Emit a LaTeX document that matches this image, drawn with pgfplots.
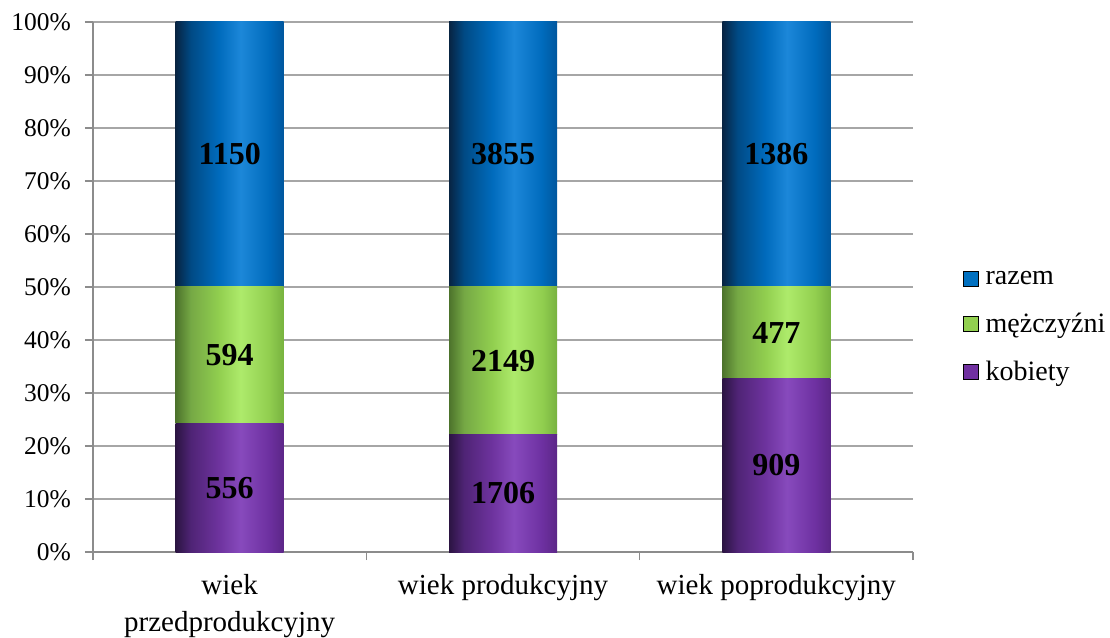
\documentclass[border=0pt]{standalone}
\usepackage{fontspec}
\setmainfont{Liberation Serif}
\usepackage{pgfplots}
\usepackage{pgfplotstable}
\pgfplotsset{compat=1.18}

\definecolor{razemC}{HTML}{0070C0}
\definecolor{mezC}{HTML}{92D050}
\definecolor{kobC}{HTML}{7030A0}
\definecolor{gridC}{HTML}{A6A6A6}
\definecolor{axisC}{HTML}{8C8C8C}

\pgfdeclarehorizontalshading{blueshade}{100bp}{
 rgb(0bp)=(0.03,0.14,0.26);
 rgb(25bp)=(0.03,0.14,0.26);
 rgb(32bp)=(0.00,0.29,0.52);
 rgb(45bp)=(0.00,0.42,0.74);
 rgb(55bp)=(0.11,0.53,0.85);
 rgb(68bp)=(0.00,0.42,0.74);
 rgb(75bp)=(0.00,0.34,0.62);
 rgb(100bp)=(0.00,0.34,0.62)}
\pgfdeclarehorizontalshading{greenshade}{100bp}{
 rgb(0bp)=(0.30,0.45,0.17);
 rgb(25bp)=(0.30,0.45,0.17);
 rgb(32bp)=(0.46,0.66,0.27);
 rgb(45bp)=(0.57,0.81,0.31);
 rgb(55bp)=(0.68,0.92,0.42);
 rgb(68bp)=(0.57,0.81,0.31);
 rgb(75bp)=(0.47,0.70,0.25);
 rgb(100bp)=(0.47,0.70,0.25)}
\pgfdeclarehorizontalshading{purpleshade}{100bp}{
 rgb(0bp)=(0.17,0.08,0.26);
 rgb(25bp)=(0.17,0.08,0.26);
 rgb(32bp)=(0.31,0.14,0.46);
 rgb(45bp)=(0.43,0.20,0.62);
 rgb(55bp)=(0.53,0.29,0.74);
 rgb(68bp)=(0.43,0.19,0.63);
 rgb(75bp)=(0.36,0.15,0.53);
 rgb(100bp)=(0.36,0.15,0.53)}

% one table per category: shares of the column total, labels = counts
\pgfplotstableread{
x   k      m      r    kl    ml    rl
0   24.17  25.83  50   556   594   1150
}\przed
\pgfplotstableread{
x   k      m      r    kl    ml    rl
1   22.13  27.87  50   1706  2149  3855
}\prod
\pgfplotstableread{
x   k      m      r    kl    ml    rl
2   32.79  17.21  50   909   477   1386
}\poprod

\pgfplotsset{
  base/.style={
    at={(0pt,0pt)}, anchor=south west,
    scale only axis, width=820pt, height=530pt,
    ybar stacked, bar width=108pt,
    xmin=-0.5, xmax=2.5, ymin=0, ymax=100,
    nodes near coords,
    point meta=explicit symbolic,
    every node near coord/.append style={anchor=center,
      font=\fontsize{32}{32}\selectfont\bfseries, text=black},
  },
}

\newcommand{\bars}[1]{%
  \addplot[forget plot, draw=none, shade, shading=purpleshade] table[x=x, y=k, meta=kl] {#1};
  \addplot[forget plot, draw=none, shade, shading=greenshade] table[x=x, y=m, meta=ml] {#1};
  \addplot[forget plot, draw=none, shade, shading=blueshade] table[x=x, y=r, meta=rl] {#1};
}

\begin{document}
\begin{tikzpicture}
\path[use as bounding box] (-93pt,-85pt) rectangle (1017pt,552pt);
\begin{axis}[
  base,
  axis x line*=bottom, axis y line*=left,
  axis line style={axisC, line width=1.5pt},
  ytick={0,10,...,100},
  yticklabels={0\%,10\%,20\%,30\%,40\%,50\%,60\%,70\%,80\%,90\%,100\%},
  xtick={0,1,2},
  xticklabels={wiek\\przedprodukcyjny, wiek produkcyjny, wiek poprodukcyjny},
  minor xtick={-0.5,0.5,1.5,2.5},
  tick align=outside,
  major tick length=8pt, minor tick length=8pt,
  ytick style={axisC, line width=1.5pt},
  major x tick style={draw=none},
  minor x tick style={axisC, line width=1.5pt},
  ymajorgrids, grid style={gridC, line width=1.5pt},
  yticklabel style={font=\fontsize{25.5}{28}\selectfont, inner sep=0pt, xshift=-14pt},
  xticklabel style={font=\fontsize{29}{37}\selectfont, align=center, inner sep=0pt, yshift=-14pt},
  legend style={at={(1,0.426)}, anchor=west, xshift=50pt, draw=none, fill=none,
    font=\fontsize{28}{34}\selectfont, row sep=27pt, inner sep=0pt,
    nodes={inner sep=0pt}},
  legend cell align=left,
  legend image code/.code={\fill[#1] (0pt,-7.5pt) rectangle (15pt,7.5pt); \path (22pt,0pt);},
]
\bars{\przed}
\addlegendimage{fill=razemC}
\addlegendimage{fill=mezC}
\addlegendimage{fill=kobC}
\legend{razem, mężczyźni, kobiety}
\end{axis}
\begin{axis}[base, hide axis]
\bars{\prod}
\end{axis}
\begin{axis}[base, hide axis]
\bars{\poprod}
\end{axis}
\end{tikzpicture}
\end{document}
